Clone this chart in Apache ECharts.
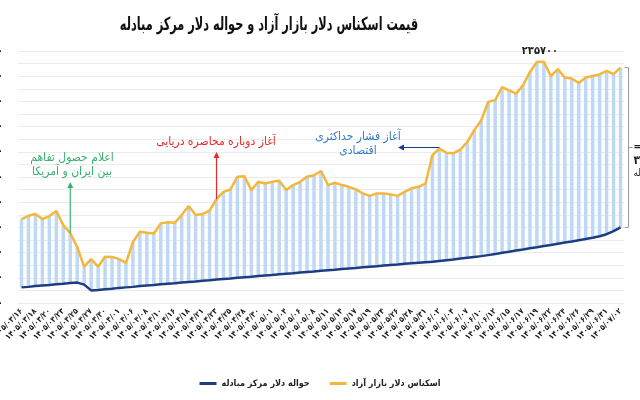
<!DOCTYPE html>
<html><head><meta charset="utf-8">
<script src="https://cdn.jsdelivr.net/npm/echarts@6/dist/echarts.min.js"></script>
<style>html,body{margin:0;padding:0;background:#fff}#c{width:640px;height:400px}</style>
</head><body><div id="c"></div>
<script>
const categories = [
'1405/03/16','1405/03/17','1405/03/18','1405/03/19','1405/03/20','1405/03/22','1405/03/23','1405/03/24','1405/03/25','1405/03/26',
'1405/03/27','1405/03/29','1405/03/30','1405/03/31','1405/04/01','1405/04/04','1405/04/06','1405/04/07','1405/04/08','1405/04/09',
'1405/04/10','1405/04/13','1405/04/16','1405/04/17','1405/04/18','1405/04/20','1405/04/21','1405/04/22','1405/04/23','1405/04/24',
'1405/04/25','1405/04/27','1405/04/28','1405/04/29','1405/04/30','1405/04/31','1405/05/01','1405/05/03','1405/05/04','1405/05/05',
'1405/05/06','1405/05/07','1405/05/08','1405/05/10','1405/05/11','1405/05/13','1405/05/14','1405/05/15','1405/05/17','1405/05/18',
'1405/05/19','1405/05/21','1405/05/24','1405/05/25','1405/05/26','1405/05/27','1405/05/28','1405/05/29','1405/05/31','1405/06/01',
'1405/06/02','1405/06/03','1405/06/04','1405/06/05','1405/06/07','1405/06/08','1405/06/10','1405/06/11','1405/06/12','1405/06/14',
'1405/06/15','1405/06/16','1405/06/17','1405/06/18','1405/06/19','1405/06/21','1405/06/22','1405/06/23','1405/06/24','1405/06/25',
'1405/06/26','1405/06/28','1405/06/29','1405/06/30','1405/06/31','1405/07/01','1405/07/02'];

const freeMarket = [
173300,174600,175300,173300,174500,176500,170900,167700,162200,154400,
157400,154400,158400,158300,157400,155900,164200,168300,167900,167600,
171600,172000,171800,174900,178500,174900,175300,176700,181200,184100,
185100,190100,190300,184800,188100,187400,188100,188500,184800,186800,
188100,190100,190700,192400,186800,187700,186800,186100,185100,183500,
182500,183500,183500,183100,182500,184100,185500,186100,187400,198700,
201300,199600,199400,200900,203900,208600,212500,219800,220500,225700,
224400,223100,226400,231700,235700,235700,230000,232800,229500,229100,
227300,229500,230100,230700,232100,230800,233400];

const exchangeCenter = [
146200,146400,146700,146900,147100,147400,147600,147900,148100,147300,
145000,145200,145500,145700,146000,146200,146400,146700,146900,147100,
147400,147600,147800,148100,148300,148500,148800,149000,149300,149500,
149700,150000,150200,150400,150700,150900,151100,151400,151600,151800,
152100,152300,152500,152800,153000,153200,153500,153700,153900,154200,
154400,154600,154900,155100,155300,155600,155800,156000,156200,156400,
156700,157000,157300,157700,158000,158300,158600,159000,159400,159900,
160300,160800,161200,161700,162100,162600,163000,163500,164000,164400,
164900,165400,165900,166500,167300,168500,170000];

const seriesNames = ['حواله دلار مرکز مبادله', 'اسکناس دلار بازار آزاد'];
const titleText = 'قیمت اسکناس دلار بازار آزاد و حواله دلار مرکز مبادله';
const notes = {
  deal: 'اعلام حصول تفاهم\nبین ایران و آمریکا',
  blockade: 'آغاز دوباره محاصره دریایی',
  pressure: 'آغاز فشار حداکثری\nاقتصادی'
};
const noteIdx = { deal: 7, blockade: 28, pressure: 60 };
const yMin = 140000, yMax = 240000, yStep = 5000, yLabelStep = 10000;

(function () {
const FONT = "'DejaVu Sans Condensed', 'DejaVu Sans'";
const fa = s => String(s).replace(/[0-9]/g, d => '۰۱۲۳۴۵۶۷۸۹'[+d]);
const gap = freeMarket.map((v, i) => v - exchangeCenter[i]);
const peakIdx = freeMarket.indexOf(Math.max(...freeMarket));
const freeData = freeMarket.map((v, i) => i === peakIdx ? {
  value: v, symbol: 'circle', symbolSize: 0.1,
  label: { show: true, position: 'top', distance: 5, offset: [3, 0], formatter: fa(v),
    fontFamily: FONT, fontWeight: 'bold', fontSize: 11, color: '#222' }
} : v);

const chart = echarts.init(document.getElementById('c'), null, { renderer: 'canvas' });
chart.setOption({
  animation: false,
  backgroundColor: '#fff',
  legend: {
    data: seriesNames, left: 'center', top: 374, itemWidth: 17, itemHeight: 3, itemGap: 20,
    icon: 'rect',
    textStyle: { fontFamily: FONT, fontWeight: 'bold', fontSize: 9, color: '#222' }
  },
  grid: { left: 18, right: 16, top: 51, bottom: 97, containLabel: false, outerBoundsMode: 'none' },
  xAxis: {
    type: 'category', data: categories, boundaryGap: true,
    axisLine: { show: false }, axisTick: { show: false },
    axisLabel: { interval: 1, rotate: 45, margin: 7, formatter: v => fa(v),
      fontFamily: FONT, fontWeight: 'bold', fontSize: 8, color: '#222' }
  },
  yAxis: {
    type: 'value', min: yMin, max: yMax, interval: yStep,
    axisLine: { show: false }, axisTick: { show: false },
    splitLine: { lineStyle: { color: '#ebebeb', width: 1 } },
    axisLabel: { margin: 15, formatter: v => (v % yLabelStep === 0 ? fa(v) : ''),
      fontFamily: FONT, fontWeight: 'bold', fontSize: 10, color: '#222' }
  },
  series: [
    { name: 'base', type: 'bar', stack: 'g', data: exchangeCenter, barWidth: '50%',
      itemStyle: { color: 'rgba(0,0,0,0)' }, silent: true },
    { name: 'gap', type: 'bar', stack: 'g', data: gap, barWidth: '50%',
      itemStyle: { color: '#bfd8f5' }, silent: true },
    { name: seriesNames[0], type: 'line', data: exchangeCenter, symbol: 'none',
      lineStyle: { color: '#1d3d82', width: 2.5 }, itemStyle: { color: '#1d3d82' }, z: 4 },
    { name: seriesNames[1], type: 'line', data: freeData, symbol: 'none',
      lineStyle: { color: '#f4b73a', width: 2.5 }, itemStyle: { color: '#f4b73a' }, z: 5 }
  ]
});

const px = (i, v) => chart.convertToPixel({ xAxisIndex: 0, yAxisIndex: 0 }, [i, v]);
const txt = (text, x, y, color, size, weight, align) => ({
  type: 'text', z: 10,
  style: { text, x, y, fill: color, fontFamily: FONT, fontSize: size, fontWeight: weight || 'normal',
    align: align || 'center', verticalAlign: 'middle', lineHeight: 14 }
});
const upArrow = (i, tipY, color) => {
  const b = px(i, freeMarket[i]);
  return [
    { type: 'line', z: 9, shape: { x1: b[0], y1: b[1], x2: b[0], y2: tipY + 4 }, style: { stroke: color, lineWidth: 1.2 } },
    { type: 'polygon', z: 9, shape: { points: [[b[0], tipY], [b[0] - 3, tipY + 6], [b[0] + 3, tipY + 6]] }, style: { fill: color } }
  ];
};
const pb = px(noteIdx.pressure, freeMarket[noteIdx.pressure]);
const pTop = px(categories.length - 1, freeMarket[freeMarket.length - 1]);
const pBot = px(categories.length - 1, exchangeCenter[exchangeCenter.length - 1]);
const bx = pTop[0] + 8, midY = (pTop[1] + pBot[1]) / 2;

const title = txt(titleText, 0, 0, '#111', 18, 'bold');
title.x = 269; title.y = 25; title.scaleX = 0.7;

chart.setOption({
  graphic: [
    title,
    ...upArrow(noteIdx.deal, 182, '#35b36e'),
    txt(notes.deal, 72, 165, '#35b36e', 12, 'normal'),
    ...upArrow(noteIdx.blockade, 152, '#e52b2b'),
    txt(notes.blockade, 216, 142, '#e52b2b', 12, 'normal'),
    { type: 'line', z: 9, shape: { x1: pb[0], y1: pb[1] - 1, x2: 403, y2: pb[1] - 1 }, style: { stroke: '#1d3d82', lineWidth: 1.2 } },
    { type: 'polygon', z: 9, shape: { points: [[398, pb[1] - 1], [404, pb[1] - 4], [404, pb[1] + 2]] }, style: { fill: '#1d3d82' } },
    txt(notes.pressure, 358, 144, '#3a7cc6', 12, 'normal'),
    { type: 'polyline', z: 9, shape: { points: [[bx - 4, pTop[1]], [bx, pTop[1]], [bx, pBot[1]], [bx - 4, pBot[1]]] }, style: { stroke: '#9a9a9a', lineWidth: 1, fill: null } },
    { type: 'line', z: 9, shape: { x1: bx, y1: midY, x2: bx + 4, y2: midY }, style: { stroke: '#9a9a9a', lineWidth: 1 } },
    txt('= اختلاف', bx + 5, midY, '#222', 10, 'bold', 'left'),
    txt(fa('37') + ' درصد', bx + 5, midY + 13, '#222', 12, 'bold', 'left'),
    txt('فاصله', bx + 5, midY + 26, '#222', 10, 'normal', 'left')
  ]
});
})();
</script>
</body></html>
